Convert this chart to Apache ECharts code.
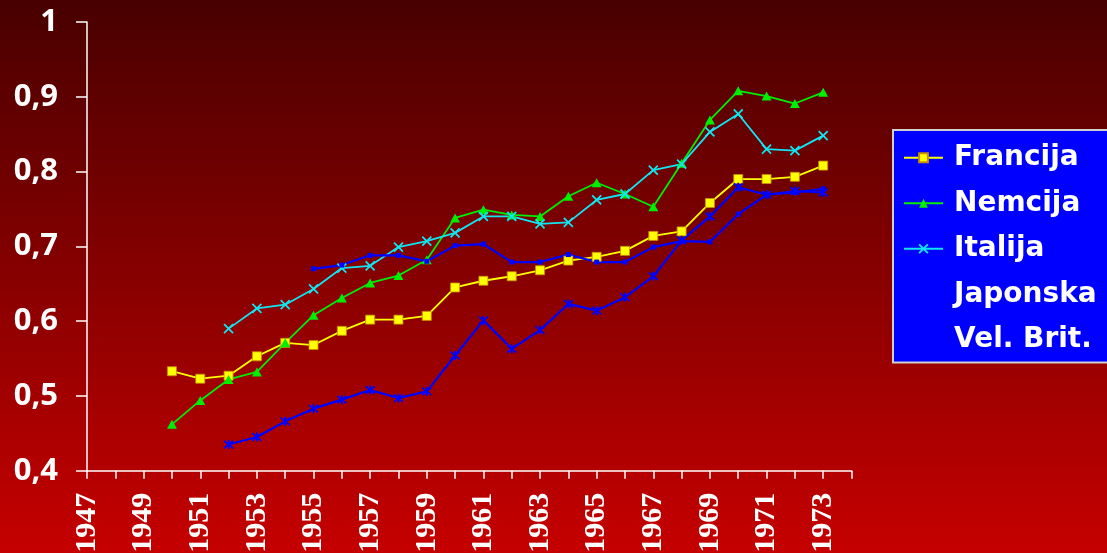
<!DOCTYPE html>
<html>
<head>
<meta charset="utf-8">
<script src="https://cdn.jsdelivr.net/npm/echarts@6/dist/echarts.min.js"></script>
<style>
  html, body { margin: 0; padding: 0; }
  #chart { width: 1107px; height: 553px; }
</style>
</head>
<body>
<div id="chart"></div>
<script>
// Years on the category axis (1974 only closes the last tick)
const years = [1947, 1948, 1949, 1950, 1951, 1952, 1953, 1954, 1955, 1956, 1957, 1958, 1959, 1960,
               1961, 1962, 1963, 1964, 1965, 1966, 1967, 1968, 1969, 1970, 1971, 1972, 1973, 1974];

// Series values, one per year (null = no data)
const francija = [null, null, null, 0.533, 0.523, 0.527, 0.553, 0.571, 0.568, 0.587, 0.602, 0.602, 0.607, 0.645,
                  0.654, 0.660, 0.668, 0.681, 0.686, 0.694, 0.714, 0.720, 0.758, 0.790, 0.790, 0.793, 0.808, null];
const nemcija = [null, null, null, 0.462, 0.494, 0.522, 0.532, 0.571, 0.608, 0.631, 0.651, 0.661, 0.682, 0.738,
                 0.749, 0.742, 0.740, 0.767, 0.785, 0.770, 0.753, 0.811, 0.869, 0.908, 0.901, 0.891, 0.906, null];
const italija = [null, null, null, null, null, 0.590, 0.617, 0.622, 0.643, 0.671, 0.674, 0.699, 0.707, 0.718,
                 0.740, 0.740, 0.730, 0.732, 0.762, 0.770, 0.802, 0.810, 0.853, 0.877, 0.830, 0.828, 0.848, null];
const japonska = [null, null, null, null, null, null, null, null, 0.670, 0.675, 0.688, 0.688, 0.680, 0.701,
                  0.703, 0.679, 0.679, 0.689, 0.679, 0.679, 0.699, 0.707, 0.706, 0.743, 0.769, 0.772, 0.777, null];
const velBrit = [null, null, null, null, null, 0.435, 0.445, 0.466, 0.483, 0.495, 0.508, 0.497, 0.506, 0.554,
                 0.601, 0.563, 0.588, 0.623, 0.614, 0.632, 0.660, 0.708, 0.740, 0.779, 0.769, 0.774, 0.772, null];

const seriesNames = ['Francija', 'Nemcija', 'Italija', 'Japonska', 'Vel. Brit.'];

// Value axis ticks
const yMin = 0.4, yMax = 1, yStep = 0.1;

const crossPath = 'path://M0,0L10,10M10,0L0,10';
const starPath = 'path://M0,0L10,10M10,0L0,10M5,-1L5,11';

const chart = echarts.init(document.getElementById('chart'));

chart.setOption({
  animation: false,
  backgroundColor: {
    type: 'linear', x: 0, y: 0, x2: 0, y2: 1,
    colorStops: [
      { offset: 0, color: '#480000' },
      { offset: 1, color: '#c60000' }
    ]
  },
  grid: { left: 87, right: 255.5, top: 22, bottom: 82.3, containLabel: false, outerBoundsMode: 'none' },
  legend: {
    orient: 'vertical',
    left: 893,
    top: 130,
    backgroundColor: '#0000ff',
    borderColor: '#d0d0d0',
    borderWidth: 2,
    borderRadius: 0,
    padding: [5, 40, 0, 10],
    itemGap: 0,
    itemWidth: 39,
    itemHeight: 11,
    selectedMode: false,
    data: seriesNames,
    textStyle: {
      color: '#ffffff',
      fontFamily: 'DejaVu Sans',
      fontWeight: 'bold',
      fontSize: 28,
      lineHeight: 45.5,
      padding: [0, 0, 0, 6]
    }
  },
  xAxis: {
    type: 'category',
    data: years,
    boundaryGap: false,
    axisLine: { show: true, lineStyle: { color: '#ffffff', width: 1.5 } },
    axisTick: { show: true, inside: false, length: 8, interval: 0, lineStyle: { color: '#ffffff', width: 1.5 } },
    axisLabel: {
      interval: 1,
      rotate: 90,
      margin: 22,
      color: '#ffffff',
      fontFamily: '"Liberation Serif", "DejaVu Serif", "Times New Roman", serif',
      fontWeight: 'bold',
      fontSize: 30
    },
    splitLine: { show: false }
  },
  yAxis: {
    type: 'value',
    min: yMin,
    max: yMax,
    interval: yStep,
    axisLine: { show: true, lineStyle: { color: '#ffffff', width: 1.5 } },
    axisTick: { show: true, inside: false, length: 11, lineStyle: { color: '#ffffff', width: 1.5 } },
    axisLabel: {
      margin: 29,
      color: '#ffffff',
      fontFamily: '"Open Sans", sans-serif',
      fontWeight: 'bold',
      fontSize: 31,
      formatter: v => (Math.abs(v - 1) < 1e-9 ? '1' : v.toFixed(1).replace('.', ','))
    },
    splitLine: { show: false }
  },
  series: [
    {
      name: 'Francija', type: 'line', data: francija,
      symbol: 'rect', symbolSize: 9, showAllSymbol: true,
      lineStyle: { color: '#ffff00', width: 1.8 },
      itemStyle: { color: '#ffff00', borderColor: '#c89000', borderWidth: 0.8 }
    },
    {
      name: 'Nemcija', type: 'line', data: nemcija,
      symbol: 'triangle', symbolSize: [10, 9], showAllSymbol: true,
      lineStyle: { color: '#00ee00', width: 1.8 },
      itemStyle: { color: '#00ee00' }
    },
    {
      name: 'Italija', type: 'line', data: italija,
      symbol: crossPath, symbolSize: 9, showAllSymbol: true,
      lineStyle: { color: '#10e6f2', width: 1.8 },
      itemStyle: { color: 'rgba(0,0,0,0)', borderColor: '#10e6f2', borderWidth: 1.8 }
    },
    {
      name: 'Japonska', type: 'line', data: japonska,
      symbol: 'rect', symbolSize: 5, showAllSymbol: true,
      lineStyle: { color: '#0000ff', width: 2.2 },
      itemStyle: { color: '#0000ff' }
    },
    {
      name: 'Vel. Brit.', type: 'line', data: velBrit,
      symbol: starPath, symbolSize: 9, showAllSymbol: true,
      lineStyle: { color: '#0000ff', width: 2.2 },
      itemStyle: { color: 'rgba(0,0,0,0)', borderColor: '#0000ff', borderWidth: 1.8 }
    }
  ]
});
</script>
</body>
</html>
